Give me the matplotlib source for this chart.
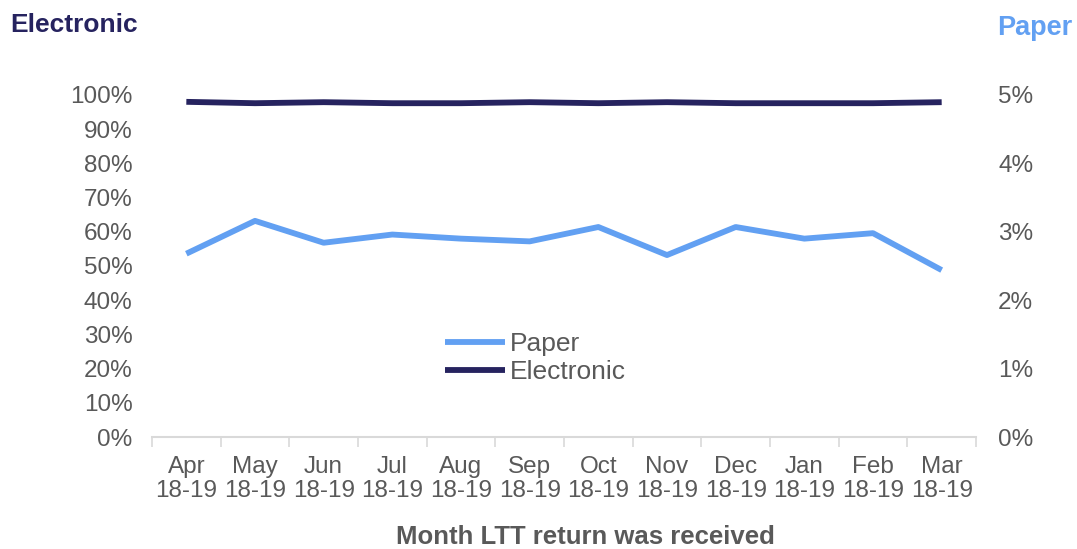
import matplotlib
matplotlib.use("Agg")
import matplotlib.pyplot as plt
from matplotlib.ticker import FuncFormatter, FixedLocator

plt.rcParams['font.family'] = ['Liberation Sans', 'DejaVu Sans']

months = ["Apr", "May", "Jun", "Jul", "Aug", "Sep", "Oct", "Nov", "Dec", "Jan", "Feb", "Mar"]
fy = "18-19"
categories = [f"{m}\n{fy}" for m in months]
electronic = [98.0, 97.6, 97.9, 97.6, 97.6, 97.9, 97.6, 97.9, 97.6, 97.6, 97.6, 97.9]
paper = [2.68, 3.16, 2.84, 2.96, 2.90, 2.86, 3.07, 2.66, 3.07, 2.90, 2.98, 2.44]
left_ticks = [0, 10, 20, 30, 40, 50, 60, 70, 80, 90, 100]
right_ticks = [0, 1, 2, 3, 4, 5]

C_EL = "#26235f"
C_PA = "#62a0f2"
C_TXT = "#595959"
FS = 17.5

fig = plt.figure(figsize=(10.77, 5.49), dpi=100)
ax = fig.add_axes([152/1077, 112/549, (976-152)/1077, (437-95)/549])
ax2 = ax.twinx()

x = list(range(len(categories)))
l_el, = ax.plot(x, electronic, color=C_EL, lw=4.2, solid_capstyle='butt', label="Electronic")
l_pa, = ax2.plot(x, paper, color=C_PA, lw=4.2, solid_capstyle='butt', label="Paper")

ax.set_xlim(-0.5, len(categories) - 0.5)
ax.set_ylim(0, 100)
ax2.set_ylim(0, 5)
ax.set_yticks(left_ticks)
ax2.set_yticks(right_ticks)
ax.yaxis.set_major_formatter(FuncFormatter(lambda v, p: f"{v:.0f}%"))
ax2.yaxis.set_major_formatter(FuncFormatter(lambda v, p: f"{v:.0f}%"))

ax.set_xticks(x)
ax.set_xticklabels(categories, fontsize=FS, color=C_TXT, linespacing=1.12)
ax.xaxis.set_minor_locator(FixedLocator([i - 0.5 for i in range(len(categories) + 1)]))
ax.tick_params(axis='x', which='major', length=0, pad=14)
ax.tick_params(axis='x', which='minor', length=7, color="#d9d9d9", width=1.2)
ax.tick_params(axis='y', length=0, labelsize=FS, labelcolor=C_TXT, pad=14)
ax2.tick_params(axis='y', length=0, labelsize=FS, labelcolor=C_TXT, pad=16)

for a in (ax, ax2):
    for s in ("top", "left", "right", "bottom"):
        a.spines[s].set_visible(False)
ax.spines["bottom"].set_visible(True)
ax.spines["bottom"].set_color("#d9d9d9")
ax.spines["bottom"].set_linewidth(1.5)

leg = ax.legend([l_pa, l_el], ["Paper", "Electronic"], loc="center left",
                bbox_to_anchor=(0.327, 0.23), frameon=False, fontsize=19,
                handlelength=2.25, handletextpad=0.2, labelspacing=0.15)
for t in leg.get_texts():
    t.set_color(C_TXT)

fig.text(10/1077, 1 - 25/549, "Electronic", color=C_EL, fontsize=19, fontweight="bold", va="center", ha="left")
fig.text(1072/1077, 1 - 28/549, "Paper", color=C_PA, fontsize=19.5, fontweight="bold", va="center", ha="right")
fig.text(585/1077, 1 - 537/549, "Month LTT return was received", color=C_TXT, fontsize=18.5,
         fontweight="bold", va="center", ha="center")

fig.savefig("out.png", dpi=100)
